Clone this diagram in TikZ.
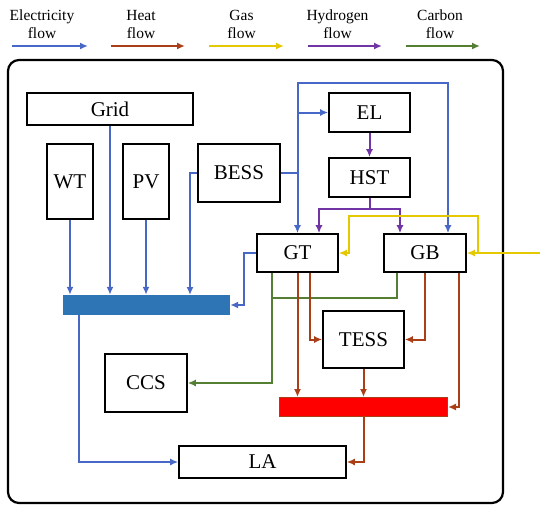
\documentclass[tikz,border=0pt]{standalone}
\usepackage{fontspec}
\setmainfont{Liberation Serif}
\usetikzlibrary{arrows.meta,positioning}
\definecolor{elecc}{RGB}{72,104,200}
\definecolor{heatc}{RGB}{170,62,22}
\definecolor{gasc}{RGB}{228,200,0}
\definecolor{hydroc}{RGB}{112,52,165}
\definecolor{carbonc}{RGB}{84,126,50}
\definecolor{busblue}{RGB}{46,117,182}

\begin{document}
\begin{tikzpicture}[x=1pt, y=-1pt, >={Latex[length=8pt,width=7pt]},
  every node/.style={font=\fontsize{21}{24}\selectfont},
  box/.style={draw, line width=1.6pt, inner sep=0pt},
  legend/.style={font=\fontsize{15.5}{18}\selectfont, align=center},
  elec/.style={draw=elecc, line width=2pt},
  heat/.style={draw=heatc, line width=2pt},
  gas/.style={draw=gasc, line width=2pt},
  hydro/.style={draw=hydroc, line width=2pt},
  carbon/.style={draw=carbonc, line width=2pt}]
\useasboundingbox (0,0) rectangle (550,512);
% legend
\node[legend] (lgelec) at (42,24) {Electricity\\flow};
\node[legend] (lgheat) at (141,24) {Heat\\flow};
\node[legend] (lggas) at (241.5,24) {Gas\\flow};
\node[legend] (lghydro) at (337.5,24) {Hydrogen\\flow};
\node[legend] (lgcarbon) at (440,24) {Carbon\\flow};
\coordinate (a1) at (12,46); \coordinate (a2) at (111,46); \coordinate (a3) at (209,46);
\coordinate (a4) at (308,46); \coordinate (a5) at (406,46);
\draw[elec,->] (a1) -- ++(76,0);
\draw[heat,->] (a2) -- ++(74,0);
\draw[gas,->] (a3) -- ++(75,0);
\draw[hydro,->] (a4) -- ++(74,0);
\draw[carbon,->] (a5) -- ++(74,0);
% frame
\draw[line width=2.2pt, rounded corners=11pt] (8,60) rectangle (503,503);
% units
\node[box, minimum width=166pt, minimum height=32pt] (grid) at (110,109) {Grid};
\node[box, minimum width=46pt, minimum height=75pt] (wt) at (70,181.5) {WT};
\node[box, minimum width=46pt, minimum height=75pt] (pv) at (146,181.5) {PV};
\node[box, minimum width=82pt, minimum height=58pt] (bess) at (239,173) {BESS};
\node[box, minimum width=81pt, minimum height=39pt] (el) at (369.5,112.5) {EL};
\node[box, minimum width=81pt, minimum height=39pt] (hst) at (369.5,177.5) {HST};
\node[box, minimum width=81pt, minimum height=38pt] (gt) at (297.5,253) {GT};
\node[box, minimum width=82pt, minimum height=38pt] (gb) at (425,253) {GB};
\node[box, minimum width=81pt, minimum height=57pt] (tess) at (363.5,339.5) {TESS};
\node[box, minimum width=82pt, minimum height=58pt] (ccs) at (146,383) {CCS};
\node[box, minimum width=167pt, minimum height=32pt] (la) at (262.5,462) {LA};
\node[fill=busblue, minimum width=167pt, minimum height=20pt, inner sep=0pt] (ebus) at (146.5,305) {};
\node[fill=red, draw=heatc, line width=1pt, minimum width=168pt, minimum height=19pt, inner sep=0pt] (hbus) at (363.5,407) {};
% electricity
\draw[elec,->] (wt) -- (wt |- ebus.north);
\draw[elec,->] (grid) -- (grid |- ebus.north);
\draw[elec,->] (pv) -- (pv |- ebus.north);
\coordinate (bessin) at (190,295);
\draw[elec,->] (bess.west) -| (bessin);
\draw[elec,->] (bess.east) -| (gt.north);
\draw[elec,->] (gt.north |- bess.east) |- (el.west);
\coordinate (top) at (448,83);
\draw[elec,->] (gt.north |- bess.east) |- (top) -- (top |- gb.north);
\draw[elec,->] (gt.west) -- ++(-12,0) |- (ebus.east);
\draw[elec,->] ([xshift=-67.5pt]ebus.south) |- (la.west);
% hydrogen
\draw[hydro,->] (el) -- (hst);
\draw[hydro] (hst.south) -- ++(0,11) coordinate (h1);
\draw[hydro,->] (h1) -| ([xshift=21.5pt]gt.north);
\draw[hydro,->] (h1) -| ([xshift=-25pt]gb.north);
% gas
\coordinate (gasin) at (540,253);
\coordinate (g2) at (349,216);
\draw[gas,->] (gasin) -- (gb.east);
\draw[gas,->] ([xshift=11pt]gb.east) |- (g2) |- (gt.east);
% carbon
\draw[carbon,->] ([xshift=-25.5pt]gt.south) |- (ccs.east);
\draw[carbon] ([xshift=-28pt]gb.south) |- ([xshift=-25.5pt]gt.south |- 0,298);
% heat
\draw[heat,->] (gt.south) -- (gt.south |- hbus.north);
\draw[heat,->] ([xshift=12.5pt]gt.south) |- (tess.west);
\draw[heat,->] (gb.south) |- (tess.east);
\draw[heat,->] ([xshift=34pt]gb.south) |- (hbus.east);
\draw[heat,->] (tess) -- (hbus);
\draw[heat,->] (hbus.south) |- (la.east);
\end{tikzpicture}
\end{document}
